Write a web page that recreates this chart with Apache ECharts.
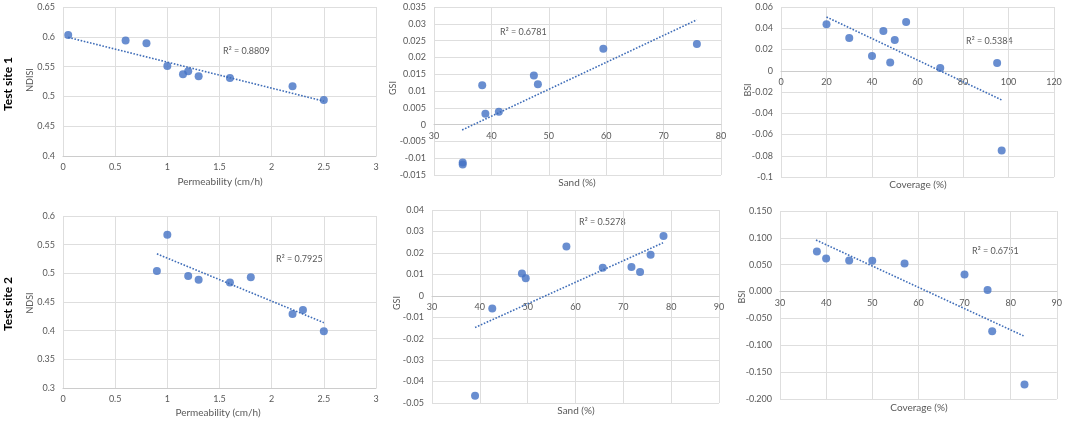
<!DOCTYPE html>
<html>
<head>
<meta charset="utf-8">
<script src="https://cdn.jsdelivr.net/npm/echarts@6/dist/echarts.min.js"></script>
<style>
html,body{margin:0;padding:0;background:#fff;}
#c{width:1065px;height:421px;}
</style>
</head>
<body>
<div id="c"></div>
<script>
// ---- Data ----
// Test site 1
const p1X = [0.05, 0.6, 0.8, 1.0, 1.15, 1.2, 1.3, 1.6, 2.2, 2.5];
const p1Y = [0.603, 0.594, 0.589, 0.551, 0.537, 0.542, 0.534, 0.531, 0.517, 0.494];
const p1TrendX = [0.05, 2.5];
const p1TrendY = [0.599, 0.492];

const p2X = [35, 35, 38.4, 38.95, 41.3, 47.4, 48.1, 59.5, 75.8];
const p2Y = [-0.0113, -0.0119, 0.0117, 0.0032, 0.0038, 0.0146, 0.012, 0.0226, 0.024];
const p2TrendX = [34.9, 75.8];
const p2TrendY = [-0.0016, 0.0312];

const p3X = [20, 30, 40, 45, 48, 50, 55, 70, 95, 97];
const p3Y = [0.0437, 0.0309, 0.0138, 0.0375, 0.0078, 0.029, 0.046, 0.0025, 0.0072, -0.075];
const p3TrendX = [20, 97];
const p3TrendY = [0.0506, -0.0275];

// Test site 2
const p4X = [0.9, 1.0, 1.2, 1.3, 1.6, 1.8, 2.2, 2.3, 2.5];
const p4Y = [0.504, 0.5675, 0.4955, 0.489, 0.484, 0.493, 0.429, 0.436, 0.399];
const p4TrendX = [0.9, 2.5];
const p4TrendY = [0.534, 0.414];

const p5X = [39, 42.6, 48.8, 49.6, 58.1, 65.7, 71.7, 73.5, 75.7, 78.4];
const p5Y = [-0.0466, -0.0059, 0.0104, 0.0082, 0.023, 0.0131, 0.0134, 0.0111, 0.0191, 0.0279];
const p5TrendX = [39, 78.3];
const p5TrendY = [-0.0148, 0.0247];

const p6X = [38, 40, 45, 50, 57, 70, 75, 76, 83];
const p6Y = [0.0746, 0.0616, 0.0579, 0.0572, 0.0523, 0.032, 0.003, -0.074, -0.173];
const p6TrendX = [37.8, 82.8];
const p6TrendY = [0.096, -0.0825];

// axis ranges [min, max, interval]
const xRanges = [[0, 3, 0.5], [30, 80, 10], [0, 120, 20], [0, 3, 0.5], [30, 90, 10], [30, 90, 10]];
const yRanges = [[0.4, 0.65, 0.05], [-0.015, 0.035, 0.005], [-0.1, 0.06, 0.02], [0.3, 0.6, 0.05], [-0.05, 0.04, 0.01], [-0.2, 0.15, 0.05]];

const xNames = ['Permeability (cm/h)', 'Sand (%)', 'Coverage (%)', 'Permeability (cm/h)', 'Sand (%)', 'Coverage (%)'];
const yNames = ['NDISI', 'GSI', 'BSI', 'NDSI', 'GSI', 'BSI'];
const r2Labels = ['R² = 0.8809', 'R² = 0.6781', 'R² = 0.5384', 'R² = 0.7925', 'R² = 0.5278', 'R² = 0.6751'];
const rowLabels = ['Test site 1', 'Test site 2'];

// ---- Layout ----
const grids = [
  {left: 63, top: 7, width: 313, height: 149},
  {left: 434, top: 7, width: 287, height: 168},
  {left: 781, top: 7, width: 273, height: 170},
  {left: 63, top: 216, width: 313, height: 172},
  {left: 432, top: 210, width: 287, height: 193},
  {left: 780, top: 211, width: 279, height: 188}
];
const xNamePos = [[220, 182], [577, 183], [918, 185], [218, 413], [576, 411], [919, 408]];
const yNamePos = [[30, 80], [393, 88], [748, 90], [30, 303], [397, 303], [742, 297]];
const r2Pos = [[223, 51], [500, 32], [966, 41], [276, 259], [579, 222], [972, 251]];
const rowPos = [[8, 84], [8, 304]];

const FONT = 'Lato, "Noto Sans", sans-serif';
const TXT = '#595959';
const BLUE = '#4472C4';
const GRIDC = '#dedede';

const panels = [
  [p1X, p1Y, p1TrendX, p1TrendY],
  [p2X, p2Y, p2TrendX, p2TrendY],
  [p3X, p3Y, p3TrendX, p3TrendY],
  [p4X, p4Y, p4TrendX, p4TrendY],
  [p5X, p5Y, p5TrendX, p5TrendY],
  [p6X, p6Y, p6TrendX, p6TrendY]
];

const xAxis = [], yAxis = [], series = [], graphic = [];
panels.forEach((p, i) => {
  const [xs, ys, tx, ty] = p;
  const ymin = yRanges[i][0], ymax = yRanges[i][1];
  // put the horizontal axis on the y = 0 line when the range crosses zero
  const crossesZero = ymin < 0 && ymax > 0;
  const off = crossesZero ? -grids[i].height * (0 - ymin) / (ymax - ymin) : 0;
  xAxis.push({
    type: 'value', gridIndex: i, position: 'bottom', offset: off,
    min: xRanges[i][0], max: xRanges[i][1], interval: xRanges[i][2],
    axisLine: {show: true, onZero: false, lineStyle: {color: '#cccccc', width: 1}},
    axisTick: {show: false},
    splitLine: {show: true, lineStyle: {color: GRIDC, width: 1}},
    axisLabel: {color: TXT, fontSize: 9, fontFamily: FONT, margin: 7}
  });
  yAxis.push({
    type: 'value', gridIndex: i,
    min: ymin, max: ymax, interval: yRanges[i][2],
    axisLine: {show: false, onZero: false},
    axisTick: {show: false},
    splitLine: {show: true, lineStyle: {color: GRIDC, width: 1}},
    axisLabel: {
      color: TXT, fontSize: 9, fontFamily: FONT, margin: 8,
      formatter: i === 5 ? (v => v.toFixed(3)) : null
    }
  });
  series.push({
    type: 'scatter', xAxisIndex: i, yAxisIndex: i,
    data: xs.map((x, j) => [x, ys[j]]),
    symbolSize: 8,
    itemStyle: {color: BLUE},
    z: 3
  });
  series.push({
    type: 'line', xAxisIndex: i, yAxisIndex: i,
    data: tx.map((x, j) => [x, ty[j]]),
    showSymbol: false, symbol: 'none',
    lineStyle: {type: 'dotted', width: 1.6, color: '#3f6db8'},
    silent: true, z: 4
  });
  graphic.push({
    type: 'text', x: xNamePos[i][0], y: xNamePos[i][1],
    style: {text: xNames[i], fill: TXT, font: '10px ' + FONT, align: 'center', verticalAlign: 'middle'}
  });
  graphic.push({
    type: 'text', x: yNamePos[i][0], y: yNamePos[i][1], rotation: Math.PI / 2,
    style: {text: yNames[i], fill: TXT, font: '9px ' + FONT, align: 'center', verticalAlign: 'middle'}
  });
  graphic.push({
    type: 'text', x: r2Pos[i][0], y: r2Pos[i][1],
    style: {text: r2Labels[i], fill: TXT, font: '9px ' + FONT, align: 'left', verticalAlign: 'middle'}
  });
});
rowLabels.forEach((t, k) => {
  graphic.push({
    type: 'text', x: rowPos[k][0], y: rowPos[k][1], rotation: Math.PI / 2,
    style: {text: t, fill: '#000', font: 'bold 12px ' + FONT, align: 'center', verticalAlign: 'middle'}
  });
});

const chart = echarts.init(document.getElementById('c'), null, {renderer: 'canvas'});
chart.setOption({
  animation: false,
  backgroundColor: '#fff',
  grid: grids.map(g => Object.assign({containLabel: false}, g)),
  xAxis, yAxis, series, graphic
});
</script>
</body>
</html>
